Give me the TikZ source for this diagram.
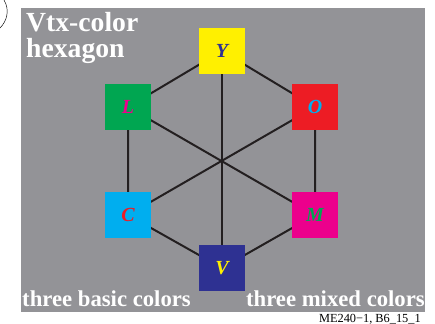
\documentclass[tikz,border=0pt]{standalone}
\usepackage{fontspec}
\setmainfont{Liberation Serif}
\usepackage{tikz}
\usetikzlibrary{positioning}
\definecolor{bggray}{RGB}{147,147,151}
\definecolor{vy}{RGB}{255,240,0}
\definecolor{vl}{RGB}{0,166,81}
\definecolor{vo}{RGB}{237,28,36}
\definecolor{vc}{RGB}{0,174,239}
\definecolor{vm}{RGB}{236,0,140}
\definecolor{vv}{RGB}{46,49,146}
\definecolor{edge}{RGB}{35,31,32}
\pgfdeclarelayer{back}
\pgfdeclarelayer{lines}
\pgfsetlayers{back,lines,main}
\tikzset{
  vtx/.style={minimum size=46*0.85pt, inner sep=0pt,
    font=\fontsize{17}{17}\selectfont\bfseries\itshape},
  hexline/.style={line width=1.7pt, draw=edge},
  headtxt/.style={text=white, font=\fontsize{23.5}{22}\selectfont\bfseries,
    align=left, inner sep=0pt},
  foottxt/.style={text=white, font=\fontsize{19.3}{19}\selectfont\bfseries,
    inner sep=0pt}
}
\begin{document}
\begin{tikzpicture}[x=0.85pt,y=-0.85pt]

  \useasboundingbox (0,0) rectangle (435,323);
  \begin{pgfonlayer}{back}
  \fill [bggray] (21,8) rectangle (425,312);
  \end{pgfonlayer}

  \draw [thin] (4,0) .. controls (10,10) and (7,21) .. (0,28);

  % vertices
  \node [vtx, fill=vy, text=vv] (Y) at (222,51) {Y};
  \node [vtx, fill=vl, text=vm] (L) at (128,107) {L};
  \node [vtx, fill=vo, text=vc] (O) at (315,107) {O};
  \node [vtx, fill=vc, text=vo] (C) at (128,215) {C};
  \node [vtx, fill=vm, text=vl] (M) at (315,215) {M};
  \node [vtx, fill=vv, text=vy] (V) at (222,268) {V};

  % edges and diagonals
  \begin{pgfonlayer}{lines}
  \draw [hexline] (Y.center) -- (L.center) -- (C.center) -- (V.center)
    -- (M.center) -- (O.center) -- cycle;
  \draw [hexline] (Y.center) -- (V.center);
  \draw [hexline] (L.center) -- (M.center);
  \draw [hexline] (O.center) -- (C.center);
  \end{pgfonlayer}

  \node [headtxt, anchor=north west] (title) at (26,12) {Vtx-color\\hexagon};

  \node [foottxt, anchor=base west] (basic) at (22,306) {three basic colors};
  \node [foottxt, anchor=base east] (mixed) at (425,306) {three mixed colors};

  \node [anchor=base east, inner sep=0pt, font=\fontsize{10.5}{10}\selectfont]
    (code) at (421,322) {ME240−1, B6\_15\_1};

\end{tikzpicture}
\end{document}
